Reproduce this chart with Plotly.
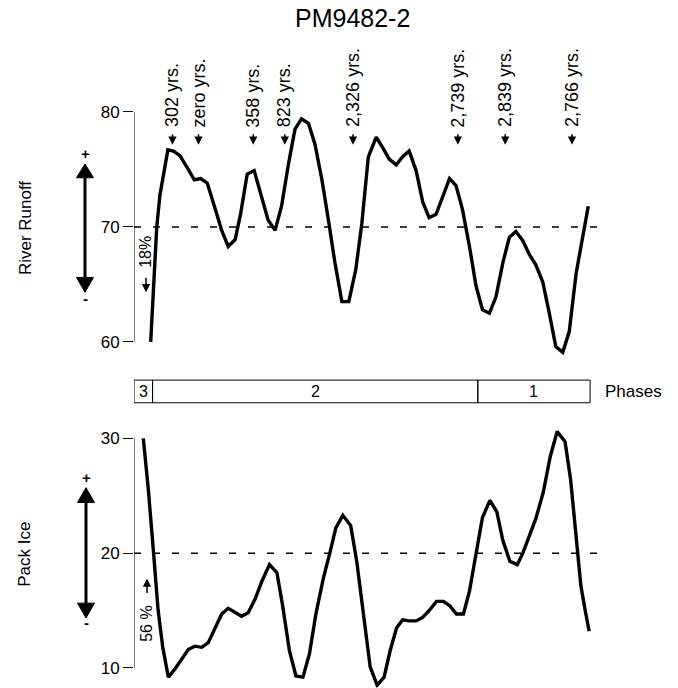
import plotly.graph_objects as go

# ---------------- data ----------------
runoff_x = [3.6, 4.9, 5.6, 7.3, 8.5, 9.9, 11.4, 13.0, 14.4, 15.8, 17.1, 18.9, 20.3, 21.8, 23.0,
            24.4, 25.9, 27.5, 28.9, 30.4, 31.8, 33.3, 34.7, 36.1, 37.6, 39.0, 40.5, 41.9, 43.3,
            44.8, 46.3, 47.8, 49.1, 50.5, 52.2, 53.6, 55.0, 56.5, 57.9, 59.3, 60.8, 62.2, 63.6,
            65.1, 66.5, 68.0, 69.4, 70.8, 72.3, 73.7, 75.1, 76.6, 78.0, 79.5, 80.9, 82.3, 83.8,
            85.2, 86.6, 88.1, 89.5, 90.9, 92.4, 93.8, 95.3, 96.7, 97.9]
runoff_y = [60.0, 70.0, 72.8, 76.7, 76.6, 76.2, 75.2, 74.1, 74.2, 73.8, 72.1, 69.7, 68.3, 68.9, 71.2,
            74.6, 74.9, 72.6, 70.6, 69.7, 71.8, 75.5, 78.5, 79.4, 79.0, 77.2, 74.1, 70.6, 66.9,
            63.5, 63.5, 66.3, 70.3, 76.1, 77.8, 76.9, 75.9, 75.4, 76.1, 76.6, 74.9, 72.2, 70.8,
            71.1, 72.6, 74.2, 73.6, 71.5, 68.3, 64.9, 62.8, 62.5, 63.9, 66.9, 69.1, 69.6, 68.8,
            67.6, 66.7, 65.2, 62.5, 59.6, 59.1, 60.9, 66.0, 69.2, 71.8]

ice_x = [2.0, 3.1, 4.2, 5.2, 6.2, 7.4, 8.8, 10.3, 11.7, 13.1, 14.6, 16.0, 17.5, 18.9, 20.3, 21.8,
         23.2, 24.6, 26.1, 27.5, 29.2, 30.8, 32.0, 33.5, 34.9, 36.4, 37.8, 39.2, 40.8, 42.2, 43.5,
         45.0, 46.7, 48.0, 49.4, 50.9, 52.4, 53.9, 55.2, 56.6, 57.9, 59.3, 60.8, 62.2, 63.6, 65.2,
         66.7, 68.1, 69.5, 71.0, 72.3, 73.7, 75.1, 76.7, 78.2, 79.5, 81.0, 82.6, 83.8, 85.2, 86.6,
         88.2, 89.7, 91.2, 92.9, 94.1, 95.3, 96.3, 97.2, 98.1]
ice_y = [30.0, 25.5, 20.1, 15.0, 11.8, 9.2, 9.9, 10.8, 11.6, 11.9, 11.8, 12.2, 13.5, 14.7, 15.2, 14.8,
         14.5, 14.8, 16.0, 17.5, 19.0, 18.3, 15.5, 11.5, 9.3, 9.2, 11.2, 14.7, 17.8, 20.0, 22.2,
         23.3, 22.4, 19.3, 14.7, 10.1, 8.5, 9.2, 11.5, 13.5, 14.2, 14.1, 14.1, 14.4, 15.0, 15.8,
         15.8, 15.4, 14.7, 14.7, 16.7, 19.8, 23.1, 24.6, 23.6, 21.1, 19.3, 19.0, 20.0, 21.5, 23.0,
         25.3, 28.4, 30.6, 29.7, 26.4, 21.3, 17.2, 15.1, 13.2]

runoff_mean = 70
ice_mean = 20
runoff_ticks = [60, 70, 80]
ice_ticks = [10, 20, 30]

age_labels = ["302 yrs.", "zero yrs.", "358 yrs.", "823 yrs.", "2,326 yrs.",
              "2,739 yrs.", "2,839 yrs.", "2,766 yrs."]
age_x = [8.3, 13.9, 25.7, 32.5, 47.2, 69.8, 80.0, 94.4]

phase_names = ["3", "2", "1"]
phase_bounds = [0, 4.0, 74.1, 98.3]

# ---------------- layout helpers ----------------
W, H = 678, 688
def px(p):
    return p / W
def py(p):
    return 1 - p / H

FONT = "Liberation Sans, Arial, Helvetica, sans-serif"
X_DOM = [px(134), px(598)]
TXT = 17

fig = go.Figure()
fig.add_trace(go.Scatter(x=runoff_x, y=runoff_y, mode="lines",
                         line=dict(color="black", width=3.4), xaxis="x", yaxis="y",
                         showlegend=False, hoverinfo="skip"))
fig.add_trace(go.Scatter(x=ice_x, y=ice_y, mode="lines",
                         line=dict(color="black", width=3.4), xaxis="x2", yaxis="y2",
                         showlegend=False, hoverinfo="skip"))

yax_common = dict(showgrid=False, zeroline=False, showline=False, ticks="outside",
                  ticklen=10, tickwidth=1, tickcolor="black",
                  tickfont=dict(family=FONT, size=TXT, color="black"))
xax_common = dict(range=[0, 100], domain=X_DOM, visible=False, showgrid=False, zeroline=False)

fig.update_layout(
    width=W, height=H, margin=dict(l=0, r=0, t=0, b=0),
    paper_bgcolor="white", plot_bgcolor="white",
    xaxis=dict(**xax_common, anchor="y"),
    yaxis=dict(**yax_common, range=[58.5, 80], domain=[py(354.8), py(104.3)],
               tickvals=runoff_ticks, anchor="x"),
    xaxis2=dict(**xax_common, anchor="y2"),
    yaxis2=dict(**yax_common, range=[8.3, 30.8], domain=[py(687.5), py(425.7)],
                tickvals=ice_ticks, anchor="x2"),
    title=dict(text="PM9482-2", x=px(295), xanchor="left", y=py(18), yanchor="middle",
               font=dict(family=FONT, size=25, color="black")),
)

shapes = []
# axis lines spanning only tick range
shapes.append(dict(type="line", xref="x", yref="y", x0=0, x1=0,
                   y0=runoff_ticks[0], y1=runoff_ticks[-1], line=dict(color="black", width=1)))
shapes.append(dict(type="line", xref="x2", yref="y2", x0=0, x1=0,
                   y0=ice_ticks[0], y1=ice_ticks[-1], line=dict(color="black", width=1)))
# mean reference lines
shapes.append(dict(type="line", xref="x", yref="y", x0=0, x1=100, y0=runoff_mean, y1=runoff_mean,
                   line=dict(color="black", width=1.5, dash="7px,12px")))
shapes.append(dict(type="line", xref="x2", yref="y2", x0=0, x1=100, y0=ice_mean, y1=ice_mean,
                   line=dict(color="black", width=1.5, dash="7px,12px")))

# phases bar
for i, name in enumerate(phase_names):
    shapes.append(dict(type="rect", xref="x", yref="paper",
                       x0=phase_bounds[i], x1=phase_bounds[i + 1], y0=py(399), y1=py(376),
                       line=dict(color="black", width=1), fillcolor="rgba(0,0,0,0)"))

# double-headed arrows (paper coords)
def double_arrow(cx, tip_top, base_top, base_bot, tip_bot, half=8.5):
    out = []
    out.append(dict(type="line", xref="paper", yref="paper", x0=px(cx), x1=px(cx),
                    y0=py(base_top), y1=py(base_bot), line=dict(color="black", width=3)))
    for tip, base in [(tip_top, base_top), (tip_bot, base_bot)]:
        path = "M {} {} L {} {} L {} {} Z".format(px(cx), py(tip), px(cx - half), py(base),
                                                   px(cx + half), py(base))
        out.append(dict(type="path", xref="paper", yref="paper", path=path,
                        fillcolor="black", line=dict(color="black", width=1)))
    return out

shapes += double_arrow(85, 157, 171, 272, 287)
shapes += double_arrow(86, 485, 500, 602, 617)
fig.update_layout(shapes=shapes)

def text_ann(text, x, y, size=TXT, xref="paper", angle=0, xanchor="center", yanchor="middle"):
    return dict(text=text, x=x, xref=xref, y=y, yref="paper", xanchor=xanchor,
                yanchor=yanchor, textangle=angle, showarrow=False,
                font=dict(family=FONT, size=size, color="black"))

def small_arrow(x, y_tip, dy, xref="paper"):
    return dict(text="", x=x, xref=xref, y=py(y_tip), yref="paper",
                ax=0, ay=dy, showarrow=True, arrowhead=2, arrowsize=1.1,
                arrowwidth=1.5, arrowcolor="black")

ann = []
# age labels with small down arrows
for lab, xv in zip(age_labels, age_x):
    ann.append(text_ann(lab, xv, py(122), size=18, xref="x", angle=-90, yanchor="bottom"))
    ann.append(small_arrow(xv, 137.5, -12, xref="x"))
# percentages
ann.append(text_ann("18%", px(146), py(246), size=16, angle=-90))
ann.append(small_arrow(px(146), 287, -16))
ann.append(text_ann("56 %", px(147), py(623), size=16, angle=-90))
ann.append(small_arrow(px(147), 577, 16))
# axis titles
ann.append(text_ann("River Runoff", px(25), py(222), angle=-90))
ann.append(text_ann("Pack Ice", px(25), py(553), angle=-90))
# plus / minus
for (xx, yy, t) in [(85, 146, "+"), (85, 293, "-"), (86, 475, "+"), (86, 622, "-")]:
    ann.append(text_ann("<b>" + t + "</b>", px(xx), py(yy), size=15))
# phase labels
for i, name in enumerate(phase_names):
    ann.append(text_ann(name, (phase_bounds[i] + phase_bounds[i + 1]) / 2, py(387.5),
                        size=16, xref="x"))
ann.append(text_ann("Phases", px(603), py(387.5), xanchor="left"))
fig.update_layout(annotations=ann)

fig.write_html("out.html")
